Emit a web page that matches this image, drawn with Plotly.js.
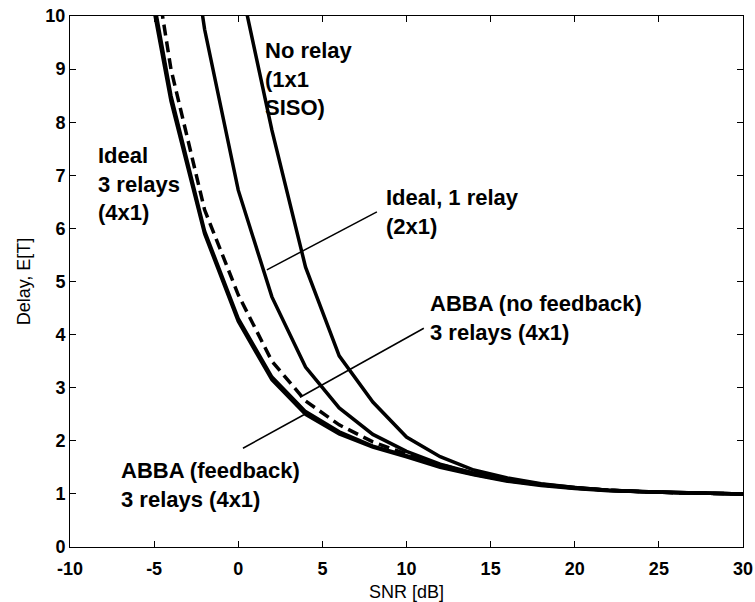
<!DOCTYPE html>
<html>
<head>
<meta charset="utf-8">
<script src="https://cdn.plot.ly/plotly-3.0.1.min.js"></script>
<style>html,body{margin:0;padding:0;background:#fff;}#chart{width:755px;height:602px;}</style>
</head>
<body>
<div id="chart"></div>
<script>
// SNR values [dB]
const snr = [-6, -4, -2, 0, 2, 4, 6, 8, 10, 12, 14, 16, 18, 20, 22, 24, 26, 28, 30];
// Delay E[T] for each scheme
const ideal3Relays = [11.8, 8.4, 5.9, 4.25, 3.15, 2.5, 2.13, 1.88, 1.7, 1.5, 1.36, 1.24, 1.16, 1.1, 1.06, 1.04, 1.02, 1.01, 1.0];
const abbaFeedback = [12.0, 8.5, 5.95, 4.3, 3.2, 2.55, 2.17, 1.9, 1.72, 1.52, 1.37, 1.25, 1.17, 1.11, 1.07, 1.04, 1.02, 1.01, 1.0];
const abbaNoFeedback = [13.0, 9.0, 6.35, 4.75, 3.5, 2.75, 2.3, 1.98, 1.75, 1.55, 1.39, 1.26, 1.17, 1.11, 1.07, 1.04, 1.02, 1.01, 1.0];
const ideal1Relay = [null, 14.0, 9.75, 6.72, 4.71, 3.39, 2.62, 2.12, 1.8, 1.56, 1.39, 1.27, 1.18, 1.12, 1.07, 1.04, 1.02, 1.01, 1.0];
const noRelay = [null, null, null, 10.8, 7.85, 5.27, 3.6, 2.73, 2.07, 1.7, 1.45, 1.3, 1.19, 1.12, 1.07, 1.04, 1.02, 1.01, 1.0];

// Tick labels
const xTickVals = [-10, -5, 0, 5, 10, 15, 20, 25, 30];
const xTickText = ['-10', '-5', '0', '5', '10', '15', '20', '25', '30'];
const yTickVals = [0, 1, 2, 3, 4, 5, 6, 7, 8, 9, 10];

const FONT = 'Liberation Sans, Arial, Helvetica, sans-serif';

function solid(y, name) {
  return {x: snr, y: y, name: name, type: 'scatter', mode: 'lines',
          line: {color: '#000', width: 3.5}, connectgaps: false};
}

const traces = [
  solid(ideal3Relays, 'Ideal 3 relays (4x1)'),
  solid(abbaFeedback, 'ABBA (feedback) 3 relays (4x1)'),
  {x: snr, y: abbaNoFeedback, name: 'ABBA (no feedback) 3 relays (4x1)', type: 'scatter', mode: 'lines',
   line: {color: '#000', width: 3.5, dash: '11px,6px'}},
  solid(ideal1Relay, 'Ideal, 1 relay (2x1)'),
  solid(noRelay, 'No relay (1x1 SISO)')
];

function note(text, x, y) {
  return {text: text, x: x, y: y, xref: 'x', yref: 'y', xanchor: 'left', yanchor: 'top',
          align: 'left', showarrow: false,
          font: {family: FONT, size: 22, color: '#000', weight: 700}};
}

function pointer(x0, y0, x1, y1) {
  return {type: 'line', xref: 'x', yref: 'y', x0: x0, y0: y0, x1: x1, y1: y1,
          line: {color: '#000', width: 1.5}};
}

const axisCommon = {
  showgrid: false, zeroline: false, showline: true, linecolor: '#000', linewidth: 1,
  mirror: 'ticks', ticks: 'inside', ticklen: 6, tickcolor: '#000',
  tickfont: {family: FONT, size: 18, color: '#000', weight: 700}
};

const layout = {
  width: 755, height: 602,
  margin: {l: 70, r: 12, t: 16, b: 55},
  paper_bgcolor: '#fff', plot_bgcolor: '#fff',
  showlegend: false,
  font: {family: FONT, color: '#000'},
  xaxis: Object.assign({}, axisCommon, {
    range: [-10, 30], tickmode: 'array', tickvals: xTickVals, ticktext: xTickText,
    ticklabelstandoff: 5,
    title: {text: 'SNR [dB]', font: {family: FONT, size: 18, color: '#000'}, standoff: 9}
  }),
  yaxis: Object.assign({}, axisCommon, {
    range: [0, 10], tickmode: 'array', tickvals: yTickVals,
    title: {text: 'Delay, E[T]', font: {family: FONT, size: 18, color: '#000'}, standoff: 10}
  }),
  annotations: [
    note('No relay<br>(1x1<br>SISO)', 1.5, 9.62),
    note('Ideal<br>3 relays<br>(4x1)', -8.45, 7.65),
    note('Ideal, 1 relay<br>(2x1)', 8.65, 6.85),
    note('ABBA (no feedback)<br>3 relays (4x1)', 11.3, 4.85),
    note('ABBA (feedback)<br>3 relays (4x1)', -7.1, 1.72)
  ],
  shapes: [
    pointer(1.7, 5.22, 8.24, 6.31),
    pointer(3.67, 2.82, 11.03, 4.12),
    pointer(0.28, 1.86, 3.9, 2.49)
  ]
};

Plotly.newPlot('chart', traces, layout, {displayModeBar: false, staticPlot: true});
</script>
</body>
</html>
